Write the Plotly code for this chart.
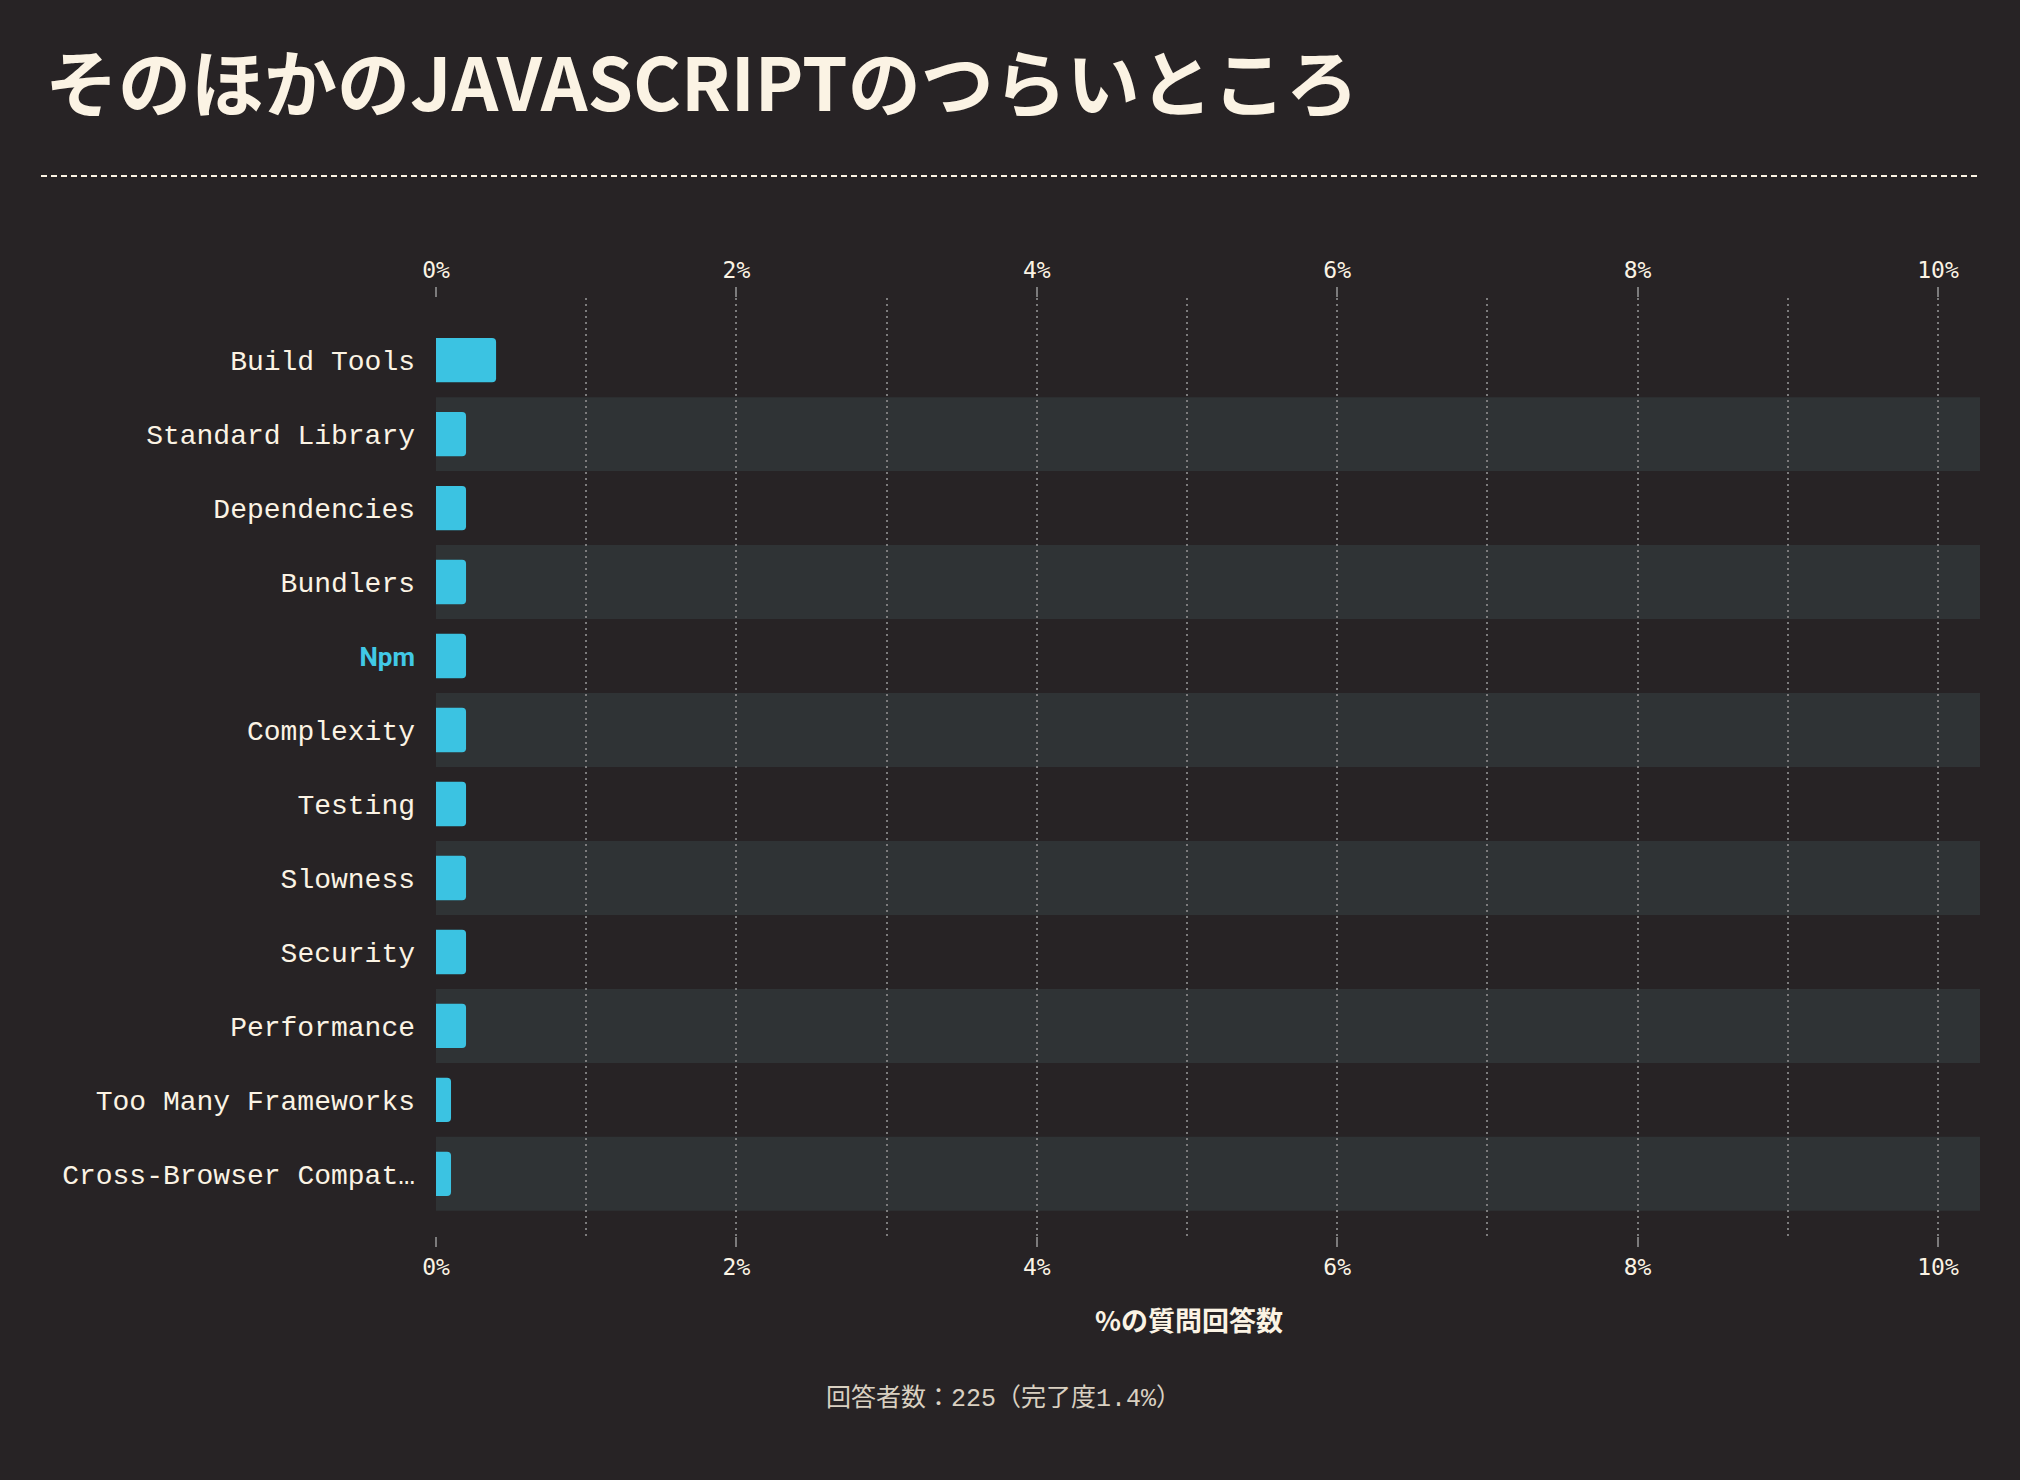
import plotly.graph_objects as go

categories = ["Build Tools", "Standard Library", "Dependencies", "Bundlers", "Npm",
              "Complexity", "Testing", "Slowness", "Security", "Performance",
              "Too Many Frameworks", "Cross-Browser Compat…"]
values = [0.4, 0.2, 0.2, 0.2, 0.2, 0.2, 0.2, 0.2, 0.2, 0.2, 0.1, 0.1]
highlight = "Npm"
x_tickvals = [0, 2, 4, 6, 8, 10]
x_ticktext = ["0%", "2%", "4%", "6%", "8%", "10%"]
title_text = "そのほかのJAVASCRIPTのつらいところ"
axis_title = "%の質問回答数"
footer_text = "回答者数：225（完了度1.4%）"

BG = "#272325"
BAND = "#2f3335"
CREAM = "#fbf3e4"
GRID = "#7c7b7c"
CYAN = "#3bc3e2"
HL = "#41c8e6"

W, H = 2020, 1480
L, R, T, B = 436, 40, 298, 244
PW = W - L - R
PH = H - T - B

def py(pix):
    return (H - B - pix) / PH

def px(pix):
    return (pix - L) / PW

ticktext = []
for c in categories:
    if c == highlight:
        ticktext.append(f"<span style='font-family:Roboto;font-weight:bold;font-size:26px;color:{HL}'>{c}</span>")
    else:
        ticktext.append(c)

idx = list(range(len(categories)))

fig = go.Figure()
fig.add_trace(go.Bar(
    x=values, y=idx, orientation="h",
    marker=dict(color=CYAN, line=dict(width=0)),
    width=0.6, hoverinfo="skip", showlegend=False,
))
fig.add_trace(go.Scatter(x=[0], y=[0], xaxis="x2", mode="markers",
                         marker=dict(opacity=0), showlegend=False, hoverinfo="skip"))

shapes = []
for i in idx:
    if i % 2 == 1:
        shapes.append(dict(type="rect", xref="paper", yref="y", x0=0, x1=1,
                           y0=i - 0.5, y1=i + 0.5, fillcolor=BAND,
                           line=dict(width=0), layer="below"))
shapes.append(dict(type="line", xref="paper", yref="paper",
                   x0=px(41), x1=px(1980), y0=py(176), y1=py(176),
                   line=dict(color=CREAM, width=2, dash="6px,4px")))

axis_common = dict(
    range=[0, 10.28],
    tickvals=x_tickvals, ticktext=x_ticktext,
    showgrid=True, gridcolor=GRID, gridwidth=2, griddash="2px,4px",
    zeroline=False, showline=False,
    ticks="outside", ticklen=10, tickwidth=2, tickcolor=GRID,
    tickfont=dict(family="DejaVu Sans Mono", size=23, color=CREAM),
    minor=dict(dtick=1, tick0=0, showgrid=True, gridcolor=GRID, gridwidth=2,
               griddash="2px,4px", ticks=""),
    fixedrange=True,
)

fig.update_layout(
    width=W, height=H,
    paper_bgcolor=BG, plot_bgcolor=BG,
    margin=dict(l=L, r=R, t=T, b=B),
    barcornerradius=4,
    xaxis=dict(**axis_common, side="bottom"),
    xaxis2=dict(**axis_common, side="top", overlaying="x", matches="x"),
    yaxis=dict(
        range=[len(categories) - 1 + 0.84, -0.84],
        tickvals=idx, ticktext=ticktext,
        showgrid=False, zeroline=False, showline=False, ticks="",
        ticklabelstandoff=20,
        tickfont=dict(family="Liberation Mono", size=28, color=CREAM),
        fixedrange=True,
    ),
    shapes=shapes,
    title=dict(
        text=f"<b>{title_text}</b>",
        x=45 / W, xanchor="left", xref="container",
        y=1 - 85 / H, yanchor="middle", yref="container",
        font=dict(family="Noto Sans CJK JP", size=73, color=CREAM),
    ),
    annotations=[
        dict(text=f"<b>{axis_title}</b>", xref="paper", yref="paper",
             x=px(1189), y=py(1319), xanchor="center", yanchor="middle",
             showarrow=False,
             font=dict(family="Noto Sans CJK JP", size=27, color=CREAM)),
        dict(text=footer_text, xref="paper", yref="paper",
             x=px(1003), y=py(1399), xanchor="center", yanchor="middle",
             showarrow=False,
             font=dict(family="Liberation Mono, Noto Sans CJK JP", size=25, color="#d9d0c1")),
    ],
    font=dict(family="Noto Sans CJK JP", color=CREAM),
)

fig.write_html("out.html")
